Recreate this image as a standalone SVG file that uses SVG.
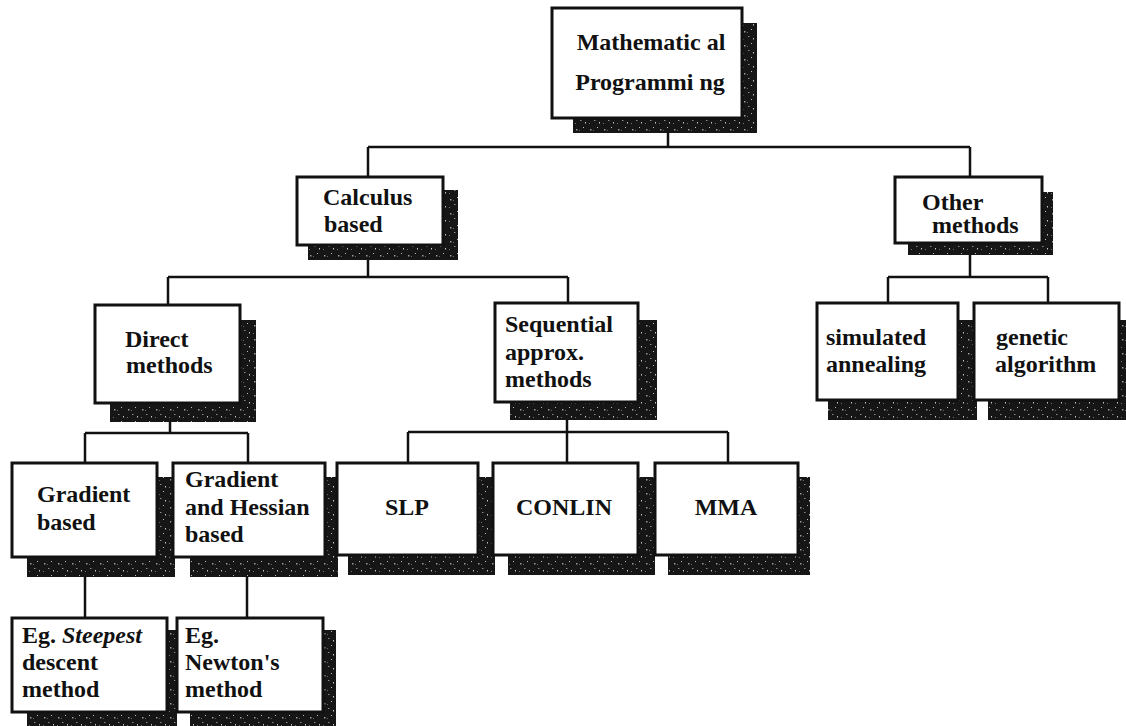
<svg xmlns="http://www.w3.org/2000/svg" width="1126" height="726" viewBox="0 0 1126 726">
<defs>
<pattern id="speck" width="14" height="14" patternUnits="userSpaceOnUse">
<rect width="14" height="14" fill="#161616"/>
<rect x="2" y="3" width="1.5" height="1.5" fill="#9a9a9a"/>
<rect x="9" y="1" width="1" height="1" fill="#bbbbbb"/>
<rect x="6" y="8" width="1.5" height="1" fill="#8a8a8a"/>
<rect x="11" y="10" width="1" height="1.5" fill="#c8c8c8"/>
<rect x="1" y="11" width="1" height="1" fill="#777"/>
<rect x="5" y="4" width="1" height="1" fill="#666"/>
</pattern>
</defs>
<style>
.sh{fill:url(#speck);}
.bx{fill:#fff;stroke:#111;stroke-width:3;}
.t{font-family:"Liberation Serif","Times New Roman",serif;font-weight:bold;font-size:24px;fill:#111;}
.m{text-anchor:middle;}
.c{fill:none;stroke:#111;stroke-width:2.5;}
</style>
<rect width="1126" height="726" fill="#fff"/>
<g id="connectors">
<path class="c" d="M668 133V147M368 147H970M368 147V177M970 147V177"/>
<path class="c" d="M368 260V277M168 277H568M168 277V305M568 277V303"/>
<path class="c" d="M970 255V277M888 277H1048M888 277V303M1048 277V303"/>
<path class="c" d="M170 422V433M85 433H248M85 433V463M248 433V463"/>
<path class="c" d="M567 420V432M408 432H728M408 432V463M567 432V463M728 432V463"/>
<path class="c" d="M85 577V618M247 577V618"/>
</g>
<g id="n-math">
<rect class="sh" x="573" y="23" width="184" height="110"/>
<rect class="bx" x="552" y="8" width="190" height="110"/>
<text class="t m" x="651" y="50">Mathematic al</text>
<text class="t m" x="650" y="90">Programmi ng</text>
</g>
<g id="n-calc">
<rect class="sh" x="308" y="190" width="150" height="70"/>
<rect class="bx" x="297" y="177" width="146" height="68"/>
<text class="t" x="323" y="205">Calculus</text>
<text class="t" x="324" y="232">based</text>
</g>
<g id="n-other">
<rect class="sh" x="908" y="192" width="145" height="63"/>
<rect class="bx" x="895" y="177" width="147" height="66"/>
<text class="t" x="922" y="210">Other</text>
<text class="t" x="932" y="233">methods</text>
</g>
<g id="n-direct">
<rect class="sh" x="110" y="320" width="146" height="102"/>
<rect class="bx" x="95" y="305" width="145" height="98"/>
<text class="t" x="125" y="347">Direct</text>
<text class="t" x="126" y="373">methods</text>
</g>
<g id="n-seq">
<rect class="sh" x="510" y="320" width="147" height="100"/>
<rect class="bx" x="495" y="303" width="143" height="99"/>
<text class="t" x="505" y="332">Sequential</text>
<text class="t" x="505" y="360">approx.</text>
<text class="t" x="505" y="387">methods</text>
</g>
<g id="n-sim">
<rect class="sh" x="828" y="320" width="149" height="100"/>
<rect class="bx" x="817" y="303" width="141" height="97"/>
<text class="t" x="826" y="345">simulated</text>
<text class="t" x="826" y="372">annealing</text>
</g>
<g id="n-gen">
<rect class="sh" x="988" y="320" width="138" height="100"/>
<rect class="bx" x="974" y="303" width="145" height="97"/>
<text class="t" x="996" y="345">genetic</text>
<text class="t" x="995" y="372">algorithm</text>
</g>
<g id="n-grad">
<rect class="sh" x="27" y="477" width="148" height="100"/>
<rect class="bx" x="12" y="463" width="145" height="94"/>
<text class="t" x="37" y="502">Gradient</text>
<text class="t" x="37" y="530">based</text>
</g>
<g id="n-hess">
<rect class="sh" x="190" y="477" width="148" height="100"/>
<rect class="bx" x="173" y="463" width="152" height="94"/>
<text class="t" x="185" y="487">Gradient</text>
<text class="t" x="185" y="515">and Hessian</text>
<text class="t" x="185" y="542">based</text>
</g>
<g id="n-slp">
<rect class="sh" x="348" y="477" width="147" height="98"/>
<rect class="bx" x="337" y="463" width="141" height="92"/>
<text class="t m" x="407" y="515">SLP</text>
</g>
<g id="n-conlin">
<rect class="sh" x="508" y="477" width="147" height="98"/>
<rect class="bx" x="493" y="463" width="145" height="92"/>
<text class="t m" x="564" y="515">CONLIN</text>
</g>
<g id="n-mma">
<rect class="sh" x="668" y="477" width="142" height="98"/>
<rect class="bx" x="655" y="463" width="143" height="92"/>
<text class="t m" x="726" y="515">MMA</text>
</g>
<g id="n-steep">
<rect class="sh" x="27" y="630" width="150" height="96"/>
<rect class="bx" x="12" y="618" width="155" height="94"/>
<text class="t" x="22" y="643">Eg. <tspan font-style="italic">Steepest</tspan></text>
<text class="t" x="22" y="670">descent</text>
<text class="t" x="22" y="697">method</text>
</g>
<g id="n-newton">
<rect class="sh" x="190" y="630" width="146" height="96"/>
<rect class="bx" x="177" y="618" width="146" height="94"/>
<text class="t" x="185" y="643">Eg.</text>
<text class="t" x="185" y="670">Newton's</text>
<text class="t" x="185" y="697">method</text>
</g>
</svg>
